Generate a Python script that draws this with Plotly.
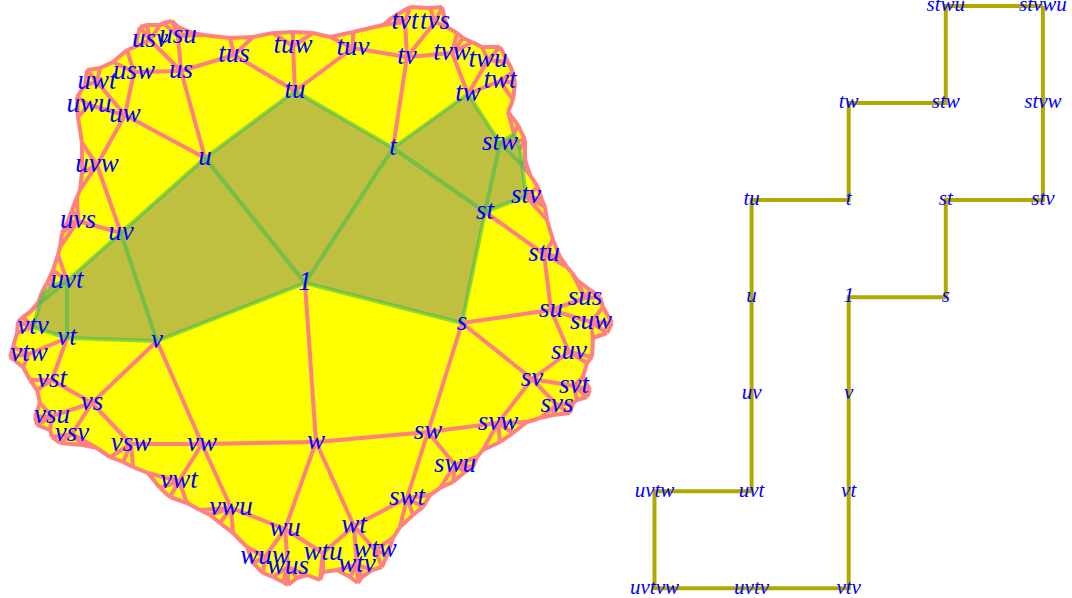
import numpy as np
import plotly.graph_objects as go

# ---------------- data: left drawing (vertex layout) ----------------
node_names = ["1", "t", "s", "w", "v", "u",
              "tu", "st", "sw", "vw", "uv", "tv", "tw", "su", "sv", "wt", "wu", "vs", "vt", "uw", "us",
              "tus", "tuw", "tuv", "tvt", "tvs", "tvw", "twu", "twt", "stw", "stv", "stu",
              "sus", "suw", "suv", "svt", "svs", "svw", "swu", "swt", "wtw", "wtv", "wtu",
              "wus", "wuw", "vwu", "vwt", "vsw", "vsv", "vsu", "vst", "vtw", "vtv",
              "uvt", "uvs", "uvw", "uwu", "uwt", "usw", "usv", "usu",
              "stwu", "stvwu", "stvw", "uvtw", "uvtvw", "uvtv"]
node_x = [305, 393, 462, 316, 157, 205,
          295, 485, 428, 202, 121, 407, 468, 551, 532, 354, 285, 92, 67, 125, 181,
          234, 293, 353, 405, 435, 452, 488, 500, 500, 526, 544,
          585, 591, 569, 574, 557, 498, 455, 407, 375, 357, 323,
          288, 265, 231, 179, 131, 72, 52, 52, 29, 33,
          67, 78, 97, 89, 97, 134, 150, 178,
          514, 520, 522, 52, 44, 40]
node_y = [283, 148, 323, 442, 341, 158,
          91, 212, 432, 444, 233, 57, 94, 310, 379, 526, 529, 403, 338, 115, 71,
          55, 46, 48, 22, 22, 53, 60, 81, 143, 196, 254,
          298, 322, 352, 386, 405, 423, 465, 498, 550, 565, 553,
          567, 557, 508, 481, 444, 434, 416, 380, 354, 327,
          281, 221, 165, 105, 82, 72, 40, 36,
          134, 149, 165, 286, 293, 303]
labelled_count = 61  # the first 61 vertices carry a label on the left

edges = [("1", "t"), ("1", "s"), ("1", "w"), ("1", "v"), ("1", "u"),
         ("t", "tu"), ("t", "st"), ("t", "tv"), ("t", "tw"),
         ("u", "tu"), ("u", "uv"), ("u", "us"), ("u", "uw"),
         ("v", "uv"), ("v", "vw"), ("v", "vt"), ("v", "vs"),
         ("w", "vw"), ("w", "sw"), ("w", "wu"), ("w", "wt"),
         ("s", "st"), ("s", "sw"), ("s", "su"), ("s", "sv"),
         ("tu", "tus"), ("tu", "tuw"), ("tu", "tuv"),
         ("tv", "tuv"), ("tv", "tvw"), ("tv", "tvt"), ("tv", "tvs"),
         ("tw", "tvw"), ("tw", "stw"), ("tw", "twu"), ("tw", "twt"),
         ("st", "stw"), ("st", "stv"), ("st", "stu"),
         ("su", "stu"), ("su", "suv"), ("su", "sus"), ("su", "suw"),
         ("sv", "suv"), ("sv", "svw"), ("sv", "svt"), ("sv", "svs"),
         ("sw", "svw"), ("sw", "swt"), ("sw", "swu"),
         ("wt", "swt"), ("wt", "wtu"), ("wt", "wtw"), ("wt", "wtv"),
         ("wu", "wtu"), ("wu", "vwu"), ("wu", "wus"), ("wu", "wuw"),
         ("vw", "vwu"), ("vw", "vsw"), ("vw", "vwt"),
         ("vs", "vsw"), ("vs", "vst"), ("vs", "vsu"), ("vs", "vsv"),
         ("vt", "vst"), ("vt", "uvt"), ("vt", "vtv"), ("vt", "vtw"),
         ("uv", "uvt"), ("uv", "uvw"), ("uv", "uvs"),
         ("uw", "uvw"), ("uw", "usw"), ("uw", "uwu"), ("uw", "uwt"),
         ("us", "usw"), ("us", "tus"), ("us", "usv"), ("us", "usu")]

# the nine squares of the shaded region
squares = [["1", "t", "st", "s"], ["1", "u", "tu", "t"], ["1", "v", "uv", "u"],
           ["t", "tw", "stw", "st"], ["st", "stw", "stvw", "stv"], ["stw", "stwu", "stvwu", "stvw"],
           ["v", "vt", "uvt", "uv"], ["vt", "vtv", "uvtv", "uvt"], ["uvt", "uvtv", "uvtvw", "uvtw"]]

# boundary walk of the shaded region (also the path on the right)
cycle = ["stvwu", "stwu", "stw", "tw", "t", "tu", "u", "uv", "uvt", "uvtw",
         "uvtvw", "uvtv", "vtv", "vt", "v", "1", "s", "st", "stv", "stvw"]

# outer rim of the complex (unlabelled outer vertices)
rim_x = [80, 82, 82, 78, 77, 85, 87, 100, 113, 127, 135, 140, 147, 160, 163, 172, 178, 193, 203, 230,
         253, 273, 293, 313, 330, 353, 383, 393, 410, 430, 442, 447, 457, 463, 472, 482, 500, 508, 513, 515,
         513, 508, 518, 525, 525, 530, 538, 542, 545, 547, 553, 560, 567, 572, 577, 590, 600, 603, 612, 607,
         593, 592, 587, 583, 590, 587, 577, 573, 570, 553, 540, 527, 513, 500, 483, 477, 473, 465, 453, 440,
         430, 423, 413, 400, 393, 387, 382, 372, 362, 358, 350, 337, 323, 320, 307, 297, 288, 283, 273, 263,
         253, 247, 233, 220, 210, 200, 187, 170, 160, 148, 133, 123, 110, 97, 83, 60, 52, 50, 37, 35,
         40, 37, 30, 23, 10, 13, 17, 18, 23, 30, 38, 42, 47, 53, 58, 60, 62, 67, 72, 77]
rim_y = [190, 173, 143, 117, 97, 85, 70, 68, 62, 50, 47, 27, 25, 25, 23, 21, 27, 33, 35, 38,
         37, 33, 32, 33, 37, 32, 25, 17, 7, 8, 7, 27, 33, 38, 42, 47, 47, 62, 72, 83,
         100, 112, 125, 140, 160, 175, 187, 200, 207, 220, 240, 257, 267, 273, 280, 290, 297, 307, 323, 333,
         338, 357, 363, 377, 390, 397, 400, 403, 413, 415, 418, 422, 433, 442, 450, 457, 467, 472, 482, 488,
         495, 507, 515, 527, 538, 555, 567, 570, 577, 583, 577, 570, 572, 580, 575, 578, 585, 582, 577, 573,
         563, 547, 533, 523, 515, 510, 503, 497, 488, 473, 467, 462, 457, 448, 445, 443, 437, 430, 425, 417,
         403, 390, 380, 367, 357, 347, 333, 322, 317, 312, 303, 292, 283, 270, 255, 247, 233, 223, 210, 197]

# ---------------- data: right drawing (grid cells) ----------------
grid_names = ["stwu", "stvwu", "tw", "stw", "stvw", "tu", "t", "st", "stv", "u", "1", "s",
              "uv", "v", "uvtw", "uvt", "vt", "uvtvw", "uvtv", "vtv"]
grid_col = [3, 4, 2, 3, 4, 1, 2, 3, 4, 1, 2, 3, 1, 2, 0, 1, 2, 0, 1, 2]
grid_row = [0, 0, 1, 1, 1, 2, 2, 2, 2, 3, 3, 3, 4, 4, 5, 5, 5, 6, 6, 6]

# ---------------- styles ----------------
YELLOW = "#ffff00"
OLIVE_FILL = "rgb(191,191,64)"
PINK = "#ff8080"
GREEN = "rgba(70,190,80,0.6)"
PATH = "#b0aa00"
BLUE = "#0000ff"
FONT = "Liberation Serif"

pos = {n: (x, y) for n, x, y in zip(node_names, node_x, node_y)}
gpos = {n: (c, r) for n, c, r in zip(grid_names, grid_col, grid_row)}

green_edges = []
seen = set()
for q in squares:
    for i in range(4):
        key = frozenset((q[i], q[(i + 1) % 4]))
        if key not in seen:
            seen.add(key)
            green_edges.append((q[i], q[(i + 1) % 4]))

def seg_coords(pairs):
    xs, ys = [], []
    for a, b in pairs:
        xs += [a[0], b[0], None]
        ys += [a[1], b[1], None]
    return xs, ys

pink_pairs = []
n_rim = len(rim_x)
for i in range(n_rim):
    j = (i + 1) % n_rim
    pink_pairs.append(((rim_x[i], rim_y[i]), (rim_x[j], rim_y[j])))
# spokes joining the outer labelled vertices to the rim
outer = node_names[21:]
P = np.array([pos[n] for n in outer], dtype=float)
R = np.column_stack([rim_x, rim_y]).astype(float)
spk = set()
for i in range(n_rim):
    d = np.hypot(P[:, 0] - R[i, 0], P[:, 1] - R[i, 1])
    j = int(d.argmin())
    if d[j] < 40:
        spk.add((j, i))
for j in range(len(outer)):
    d = np.hypot(R[:, 0] - P[j, 0], R[:, 1] - P[j, 1])
    spk.add((j, int(d.argmin())))
for j, i in sorted(spk):
    pink_pairs.append((tuple(P[j]), tuple(R[i])))
for a, b in edges:
    if frozenset((a, b)) not in seen:
        pink_pairs.append((pos[a], pos[b]))

gx, gy = seg_coords([(pos[a], pos[b]) for a, b in green_edges])
px, py = seg_coords(pink_pairs)

fig = go.Figure()
fig.add_trace(go.Scatter(x=rim_x + [rim_x[0]], y=rim_y + [rim_y[0]], mode="lines", fill="toself",
                         fillcolor=YELLOW, line=dict(width=0, color=YELLOW), hoverinfo="skip"))
fig.add_trace(go.Scatter(x=[pos[n][0] for n in cycle] + [pos[cycle[0]][0]],
                         y=[pos[n][1] for n in cycle] + [pos[cycle[0]][1]],
                         mode="lines", fill="toself", fillcolor=OLIVE_FILL,
                         line=dict(width=0, color=OLIVE_FILL), hoverinfo="skip"))
fig.add_trace(go.Scatter(x=px, y=py, mode="lines", line=dict(color=PINK, width=4), hoverinfo="skip"))
fig.add_trace(go.Scatter(x=gx, y=gy, mode="lines", line=dict(color=GREEN, width=4), hoverinfo="skip"))
fig.add_trace(go.Scatter(x=node_x[:labelled_count], y=node_y[:labelled_count], mode="text",
                         text=node_names[:labelled_count], textposition="middle center",
                         textfont=dict(family=FONT, size=27, color=BLUE, style="italic"),
                         hoverinfo="skip"))

# right panel
fig.add_trace(go.Scatter(x=[gpos[n][0] for n in cycle] + [gpos[cycle[0]][0]],
                         y=[gpos[n][1] for n in cycle] + [gpos[cycle[0]][1]],
                         mode="lines", line=dict(color=PATH, width=4), xaxis="x2", yaxis="y2",
                         hoverinfo="skip"))
fig.add_trace(go.Scatter(x=grid_col, y=grid_row, mode="text", text=grid_names,
                         textposition="middle center",
                         textfont=dict(family=FONT, size=21, color=BLUE, style="italic"),
                         xaxis="x2", yaxis="y2", hoverinfo="skip", cliponaxis=False))

W, H = 1072, 598
split = 620
fig.update_layout(
    width=W, height=H, margin=dict(l=0, r=0, t=0, b=0),
    paper_bgcolor="white", plot_bgcolor="white", showlegend=False,
    xaxis=dict(domain=[0, split / W], range=[0, split], visible=False),
    yaxis=dict(domain=[0, 1], range=[H, 0], visible=False),
    xaxis2=dict(domain=[split / W, 1], range=[-34.5 / 97.1, (W - split - 34.5) / 97.1],
                visible=False, anchor="y2"),
    yaxis2=dict(domain=[0, 1], range=[(H - 6) / 97.05, -6 / 97.05], visible=False, anchor="x2"),
)
fig.write_html("out.html", config={"displayModeBar": False},
               post_script="document.body.style.margin='0';document.body.style.padding='0';")
